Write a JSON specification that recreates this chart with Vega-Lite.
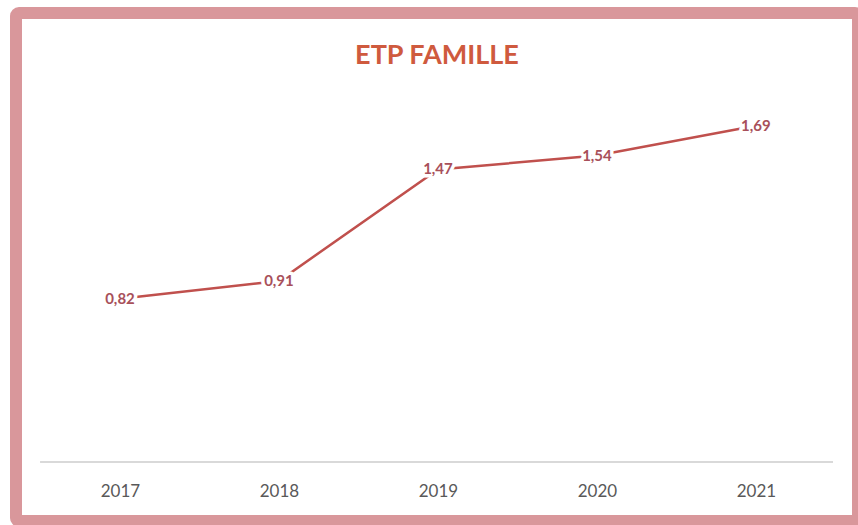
{
  "$schema": "https://vega.github.io/schema/vega-lite/v6.json",
  "width": 842,
  "height": 508,
  "autosize": "none",
  "padding": {"left": 16, "top": 13, "right": 0, "bottom": 4},
  "background": "white",
  "config": {
    "view": {"stroke": "#d9979b", "strokeWidth": 12, "cornerRadius": 3},
    "font": "Lato"
  },
  "title": {
    "text": "ETP FAMILLE",
    "font": "Lato",
    "fontSize": 27,
    "fontWeight": "bold",
    "color": "#cf5a3e",
    "anchor": "middle",
    "offset": -57
  },
  "data": {
    "values": [
      {"year": 2017, "value": 0.82, "label": "0,82"},
      {"year": 2018, "value": 0.91, "label": "0,91"},
      {"year": 2019, "value": 1.47, "label": "1,47"},
      {"year": 2020, "value": 1.54, "label": "1,54"},
      {"year": 2021, "value": 1.69, "label": "1,69"}
    ]
  },
  "encoding": {
    "x": {
      "field": "year",
      "type": "quantitative",
      "scale": {"domain": [2016.346, 2021.642], "nice": false, "zero": false},
      "axis": {
        "title": null,
        "domain": false,
        "ticks": false,
        "grid": false,
        "values": [2017, 2018, 2019, 2020, 2021],
        "format": "d",
        "offset": -59,
        "labelPadding": 21,
        "labelFont": "Lato",
        "labelFontSize": 17,
        "labelColor": "#595959",
        "labelAngle": 0
      }
    },
    "y": {
      "field": "value",
      "type": "quantitative",
      "scale": {"domain": [-0.296, 2.256], "nice": false, "zero": false},
      "axis": null
    }
  },
  "layer": [
    {
      "mark": {"type": "rule", "color": "#d9d9d9", "strokeWidth": 1.5},
      "encoding": {
        "x": {"datum": 2016.5, "type": "quantitative"},
        "x2": {"datum": 2021.484},
        "y": {"datum": 0, "type": "quantitative"}
      }
    },
    {"mark": {"type": "line", "color": "#c0504d", "strokeWidth": 2.5}},
    {
      "mark": {"type": "text", "font": "Lato", "fontSize": 15, "fontWeight": "bold", "stroke": "white", "strokeWidth": 7, "strokeJoin": "round", "fill": "white", "baseline": "middle", "align": "center"},
      "encoding": {"text": {"field": "label"}}
    },
    {
      "mark": {"type": "text", "font": "Lato", "fontSize": 15, "fontWeight": "bold", "fill": "#a8505a", "baseline": "middle", "align": "center"},
      "encoding": {"text": {"field": "label"}}
    }
  ]
}
